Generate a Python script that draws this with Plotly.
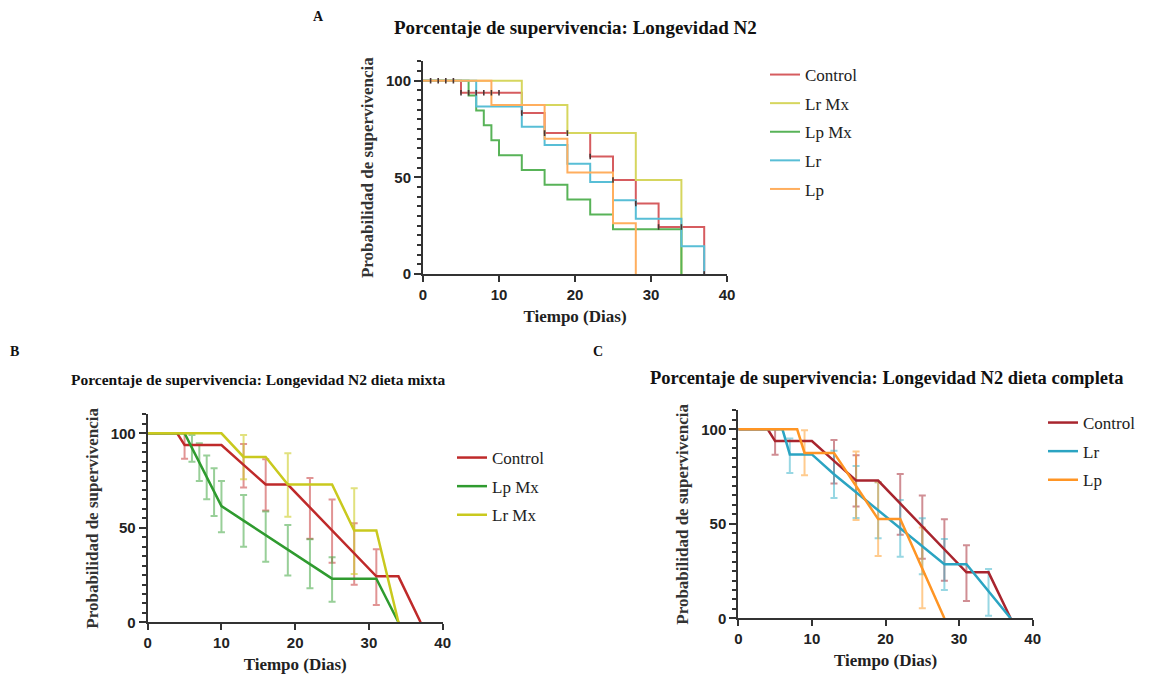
import numpy as np
import plotly.graph_objects as go

W, H = 1166, 677

# ---------------- data ----------------
ctrl_days = [0, 4, 5, 10, 13, 16, 19, 22, 25, 28, 31, 34, 37]
ctrl_surv = [100, 100, 93.75, 93.75, 83.3, 72.9, 72.9, 60.8, 48.6, 36.5, 24.3, 24.3, 0]
lrmx_days = [0, 10, 13, 16, 19, 22, 25, 28, 31, 34]
lrmx_surv = [100, 100, 87.5, 87.5, 72.9, 72.9, 72.9, 48.6, 48.6, 0]
lpmx_days = [0, 5, 6, 7, 8, 9, 10, 13, 16, 19, 22, 25, 28, 31, 34]
lpmx_surv = [100, 100, 92.3, 84.6, 76.9, 69.2, 61.5, 53.8, 46.2, 38.5, 30.8, 23.1, 23.1, 23.1, 0]
lr_days = [0, 6, 7, 10, 13, 16, 19, 22, 25, 28, 31, 34, 37]
lr_surv = [100, 100, 86.7, 86.7, 76.2, 66.7, 57.1, 47.6, 38.1, 28.6, 28.6, 14.3, 0]
lp_days = [0, 8, 9, 13, 16, 19, 22, 25, 28]
lp_surv = [100, 100, 87.5, 87.5, 70.0, 52.5, 52.5, 26.25, 0]

# censoring / point marks on the Control curve (panel A)
ctrl_mark_days = [1, 2, 3, 4, 5, 6, 7, 8, 9, 10, 13, 16, 19, 22, 25, 28, 31, 34, 37]

# error bars (upper / lower limits) at event days
ctrl_err_days = [5, 13, 16, 22, 25, 28, 31]
ctrl_err_hi = [100, 94.4, 86.3, 76.3, 65.0, 52.4, 38.6]
ctrl_err_lo = [86.5, 71.3, 59.2, 44.2, 31.5, 19.9, 9.2]
lrmx_err_days = [13, 19, 28]
lrmx_err_hi = [99.1, 89.4, 70.9]
lrmx_err_lo = [75.7, 55.9, 25.6]
lpmx_err_days = [6, 7, 8, 9, 10, 13, 16, 19, 22, 25]
lpmx_err_hi = [99.1, 94.7, 88.2, 81.5, 74.8, 67.4, 58.6, 51.5, 43.9, 34.4]
lpmx_err_lo = [85.0, 74.8, 65.1, 56.3, 47.6, 40.0, 32.1, 24.7, 18.0, 10.9]
lr_err_days = [7, 13, 16, 19, 22, 25, 28, 34]
lr_err_hi = [95.1, 88.6, 80.6, 72.0, 62.6, 52.9, 42.0, 26.1]
lr_err_lo = [76.9, 63.7, 53.1, 42.3, 32.6, 23.3, 15.0, 1.4]
lp_err_days = [9, 16, 19, 25]
lp_err_hi = [99.5, 88.2, 72.0, 48.0]
lp_err_lo = [75.7, 52.0, 33.0, 5.3]

x_ticks = [0, 10, 20, 30, 40]

groups = {
    "Control": (ctrl_days, ctrl_surv, ctrl_err_days, ctrl_err_hi, ctrl_err_lo),
    "Lr Mx": (lrmx_days, lrmx_surv, lrmx_err_days, lrmx_err_hi, lrmx_err_lo),
    "Lp Mx": (lpmx_days, lpmx_surv, lpmx_err_days, lpmx_err_hi, lpmx_err_lo),
    "Lr": (lr_days, lr_surv, lr_err_days, lr_err_hi, lr_err_lo),
    "Lp": (lp_days, lp_surv, lp_err_days, lp_err_hi, lp_err_lo),
}


def step_value(days, surv, d):
    i = np.searchsorted(np.array(days), np.array(d), side="right") - 1
    return list(np.array(surv)[i])


SERIF = "Liberation Serif"
SANS = "Liberation Sans"

colA = {"Control": "#d65c5f", "Lr Mx": "#d6d65e", "Lp Mx": "#58b358",
        "Lr": "#58bed6", "Lp": "#ffae5e"}
colB = {"Control": "#bf2a2a", "Lp Mx": "#2f9b2f", "Lr Mx": "#c9c91e"}
errB = {"Control": "rgba(200,60,60,0.55)", "Lp Mx": "rgba(50,160,50,0.5)",
        "Lr Mx": "rgba(205,205,40,0.6)"}
colC = {"Control": "#a8252e", "Lr": "#2ba4c2", "Lp": "#ff9524"}
errC = {"Control": "rgba(170,50,60,0.55)", "Lr": "rgba(50,175,200,0.5)",
        "Lp": "rgba(255,160,50,0.55)"}

fig = go.Figure()

# ---------------- Panel A (Kaplan-Meier steps) ----------------
for name in ["Control", "Lr Mx", "Lp Mx", "Lr", "Lp"]:
    d, s, *_ = groups[name]
    fig.add_trace(go.Scatter(
        x=d, y=s, mode="lines", line=dict(shape="hv", color=colA[name], width=2),
        name=name, legend="legend", legendgroup="A" + name,
        xaxis="x", yaxis="y"))
fig.add_trace(go.Scatter(
    x=ctrl_mark_days, y=step_value(ctrl_days, ctrl_surv, ctrl_mark_days),
    mode="markers", marker=dict(symbol="line-ns", size=4, line=dict(width=1.6, color="#4a3535")),
    showlegend=False, xaxis="x", yaxis="y", hoverinfo="skip"))


# ---------------- Panels B & C ----------------
def add_panel(names, cols, errs, xa, ya, leg):
    for name in names:
        d, s, ed, ehi, elo = groups[name]
        ev = step_value(d, s, ed)
        fig.add_trace(go.Scatter(
            x=ed, y=ev, mode="markers", marker=dict(size=1, opacity=0),
            error_y=dict(type="data", symmetric=False,
                         array=[h - v for h, v in zip(ehi, ev)],
                         arrayminus=[v - l for l, v in zip(elo, ev)],
                         color=errs[name], thickness=2, width=3.5),
            showlegend=False, xaxis=xa, yaxis=ya, hoverinfo="skip"))
    for name in names:
        d, s, *_ = groups[name]
        fig.add_trace(go.Scatter(
            x=d, y=s, mode="lines", line=dict(color=cols[name], width=2.5),
            name=name, legend=leg, legendgroup=leg + name, xaxis=xa, yaxis=ya))


add_panel(["Control", "Lp Mx", "Lr Mx"], colB, errB, "x2", "y2", "legend2")
add_panel(["Control", "Lr", "Lp"], colC, errC, "x3", "y3", "legend3")


# ---------------- axes ----------------
def px_x(v):
    return v / W


def px_y(v):
    return 1 - v / H


def xaxis(dom, anchor):
    return dict(domain=[px_x(dom[0]), px_x(dom[1])], anchor=anchor, range=[0, 40],
                tickvals=x_ticks, showline=True, linecolor="#333", linewidth=2,
                ticks="outside", ticklen=6, tickwidth=2, tickcolor="#333",
                tickfont=dict(family=SANS, size=15, color="#222", weight="bold"),
                showgrid=False, zeroline=False, automargin=False,
                title=dict(text="Tiempo (Dias)", standoff=8,
                           font=dict(family=SERIF, size=17, color="#222", weight="bold")))


def yaxis(dom, anchor):
    return dict(domain=[px_y(dom[1]), px_y(dom[0])], anchor=anchor, range=[0, 110],
                tickmode="linear", tick0=0, dtick=50,
                showline=True, linecolor="#333", linewidth=2,
                ticks="outside", ticklen=7, tickwidth=2, tickcolor="#333",
                minor=dict(tick0=0, dtick=5, ticks="outside", ticklen=4, tickwidth=1.5,
                           tickcolor="#333", showgrid=False),
                tickfont=dict(family=SANS, size=15, color="#222", weight="bold"),
                showgrid=False, zeroline=False, automargin=False,
                title=dict(text="Probabilidad de supervivencia", standoff=8,
                           font=dict(family=SERIF, size=17, color="#333", weight="bold")))


fig.update_layout(
    xaxis=xaxis((423, 727), "y"), yaxis=yaxis((61.4, 274), "x"),
    xaxis2=xaxis((147.7, 442.7), "y2"), yaxis2=yaxis((414.4, 622.3), "x2"),
    xaxis3=xaxis((738.3, 1032.7), "y3"), yaxis3=yaxis((410.4, 618.3), "x3"),
)

legfont = dict(family=SERIF, size=17, color="#222")
fig.update_layout(
    legend=dict(x=px_x(765), y=px_y(57), xanchor="left", yanchor="top", font=legfont,
                traceorder="grouped", tracegroupgap=3.5, bgcolor="rgba(0,0,0,0)"),
    legend2=dict(x=px_x(452), y=px_y(440), xanchor="left", yanchor="top", font=legfont,
                 traceorder="grouped", tracegroupgap=3.5, bgcolor="rgba(0,0,0,0)"),
    legend3=dict(x=px_x(1043), y=px_y(405), xanchor="left", yanchor="top", font=legfont,
                 traceorder="grouped", tracegroupgap=3.5, bgcolor="rgba(0,0,0,0)"),
)

ann = [
    ("A", 318, 17, 14),
    ("B", 14, 352, 14),
    ("C", 598, 352, 14),
    ("Porcentaje de supervivencia: Longevidad N2", 575, 27, 19),
    ("Porcentaje de supervivencia: Longevidad N2 dieta mixta", 258, 380, 15.5),
    ("Porcentaje de supervivencia: Longevidad N2 dieta completa", 886, 378, 18.5),
]
for text, x, y, size in ann:
    fig.add_annotation(text=text, x=px_x(x), y=px_y(y), xref="paper", yref="paper",
                       xanchor="center", yanchor="middle", showarrow=False,
                       font=dict(family=SERIF, size=size, color="#111", weight="bold"))

fig.update_layout(width=W, height=H, margin=dict(l=0, r=0, t=0, b=0, autoexpand=False),
                  paper_bgcolor="white", plot_bgcolor="white")

fig.write_html("out.html", config={"displayModeBar": False},
               post_script="document.body.style.margin='0';document.body.style.padding='0';")
